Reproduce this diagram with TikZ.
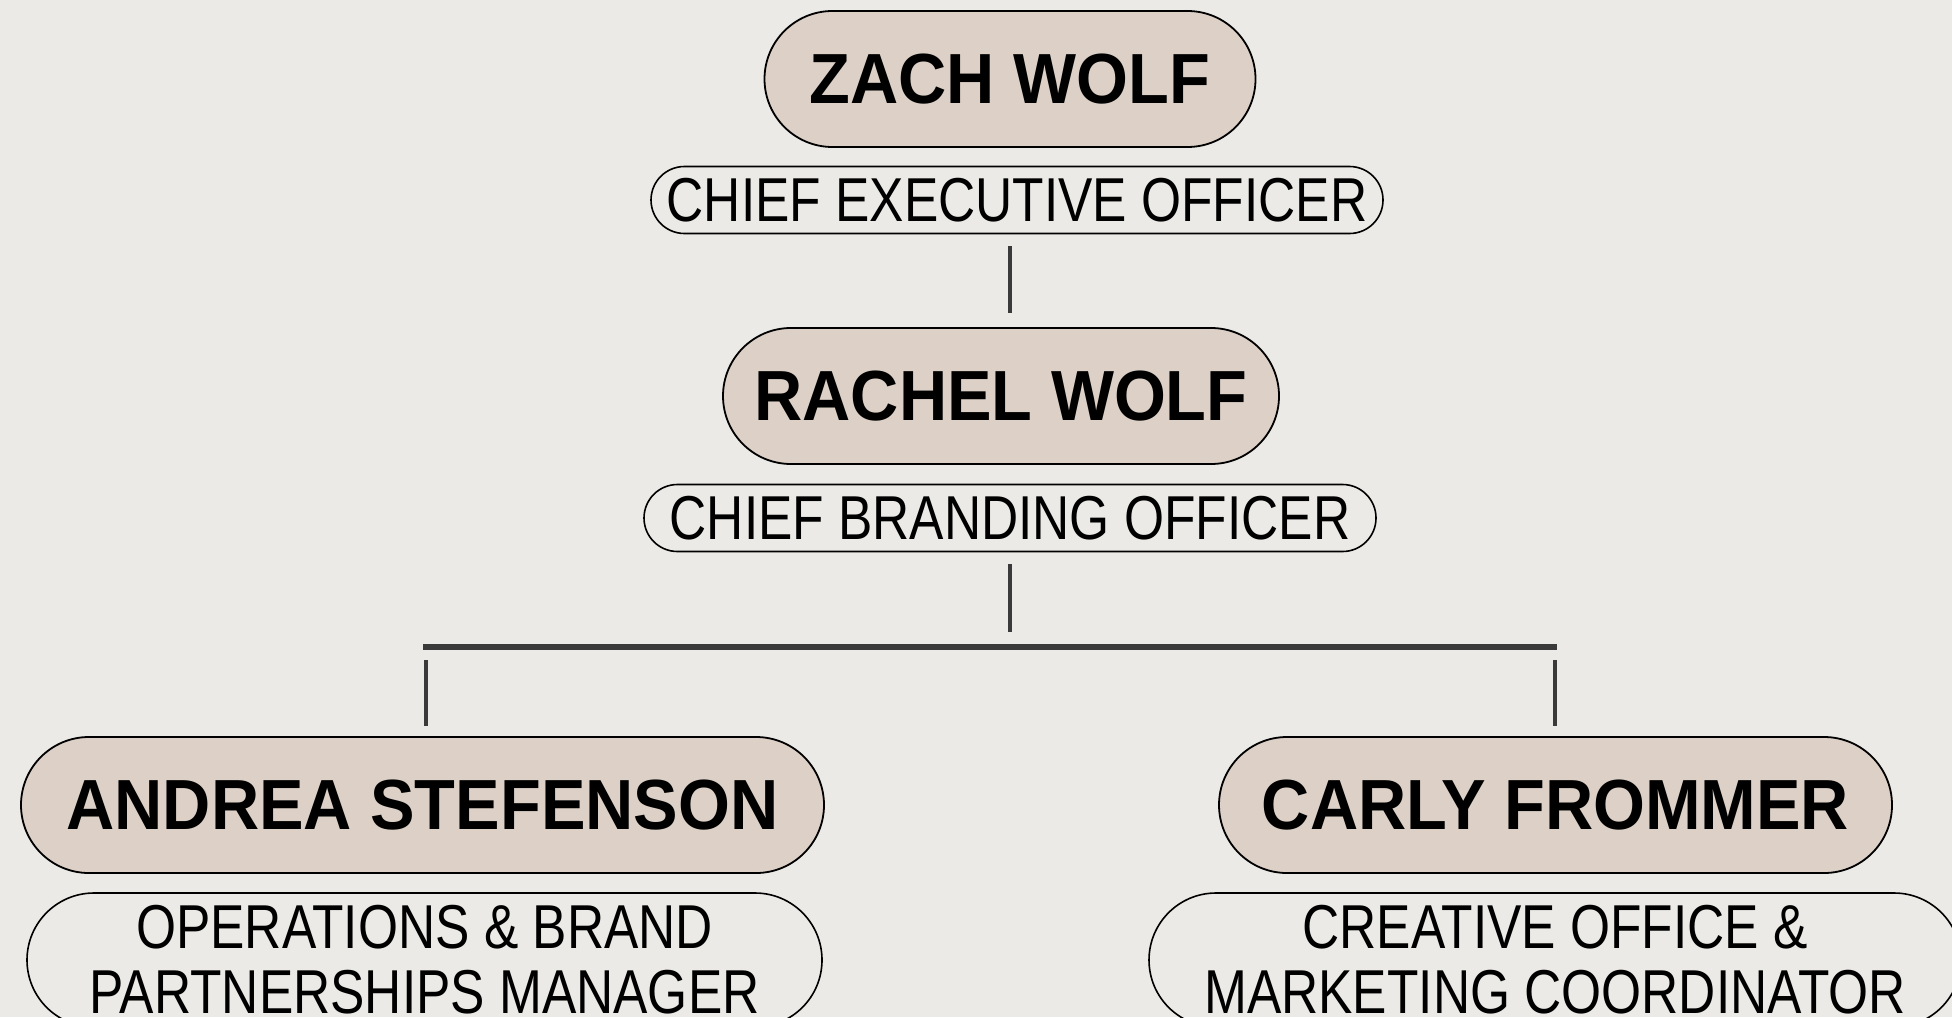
\documentclass[tikz,border=0pt]{standalone}
\usepackage{fontspec}
\newfontfamily\namefont[FakeStretch=0.94]{Liberation Sans}
\newfontfamily\rolefont[FakeStretch=0.83]{Liberation Sans}
\definecolor{paper}{HTML}{ECEAE6}
\definecolor{nameback}{HTML}{DCD0C7}
\definecolor{linegray}{HTML}{3A3A3A}
\tikzset{
  person/.style={draw=black, line width=0.9pt, fill=nameback, inner sep=0pt,
    minimum height=68pt, rounded corners=34pt,
    font=\namefont\bfseries\fontsize{35.5}{40}\selectfont},
  role/.style={draw=black, line width=0.8pt, inner sep=0pt,
    minimum height=33.5pt, rounded corners=16.75pt,
    font=\rolefont\fontsize{31}{32.5}\selectfont},
  rolebig/.style={role, minimum height=67pt, rounded corners=33.5pt, align=center},
  link/.style={draw=linegray, line width=1.9pt},
}
\begin{document}
\begin{tikzpicture}[x=0.5pt, y=-0.5pt]
  \useasboundingbox[fill=paper] (0,0) rectangle (1952,1017);
  % top
  \node[person, minimum width=245.5pt] (zach) at (1010,79) {ZACH WOLF};
  \node[role, minimum width=366pt] (ceo) at (1017,200) {CHIEF EXECUTIVE OFFICER};
  \node[person, minimum width=278pt] (rachel) at (1001,396) {RACHEL WOLF};
  \node[role, minimum width=366pt] (cbo) at (1010,518) {CHIEF BRANDING OFFICER};
  % bottom row
  \node[person, minimum width=401.5pt] (andrea) at (422.5,805) {ANDREA STEFENSON};
  \node[rolebig, minimum width=397.5pt] (opsmgr) at (424.5,960) {OPERATIONS \& BRAND\\PARTNERSHIPS MANAGER};
  \node[person, minimum width=336.5pt] (carly) at (1555.5,805) {CARLY FROMMER};
  \node[rolebig, minimum width=406pt] (coord) at (1555,960) {CREATIVE OFFICE \&\\MARKETING COORDINATOR};
  % lines
  \coordinate (barM) at (1010,647);
  \coordinate (barL) at (426,647);
  \coordinate (barR) at (1555,647);
  \draw[link, shorten <=6pt, shorten >=7pt] (ceo.south -| zach) -- (rachel.north -| zach);
  \draw[link, shorten <=6pt, shorten >=7.5pt] (cbo.south -| barM) -- (barM);
  \draw[link, line width=2.6pt] ([xshift=-1.5pt]barL) -- ([xshift=1pt]barR);
  \draw[link, shorten <=6.5pt, shorten >=5pt] (barL) -- (barL |- andrea.north);
  \draw[link, shorten <=6.5pt, shorten >=5pt] (barR) -- (barR |- carly.north);
\end{tikzpicture}
\end{document}
